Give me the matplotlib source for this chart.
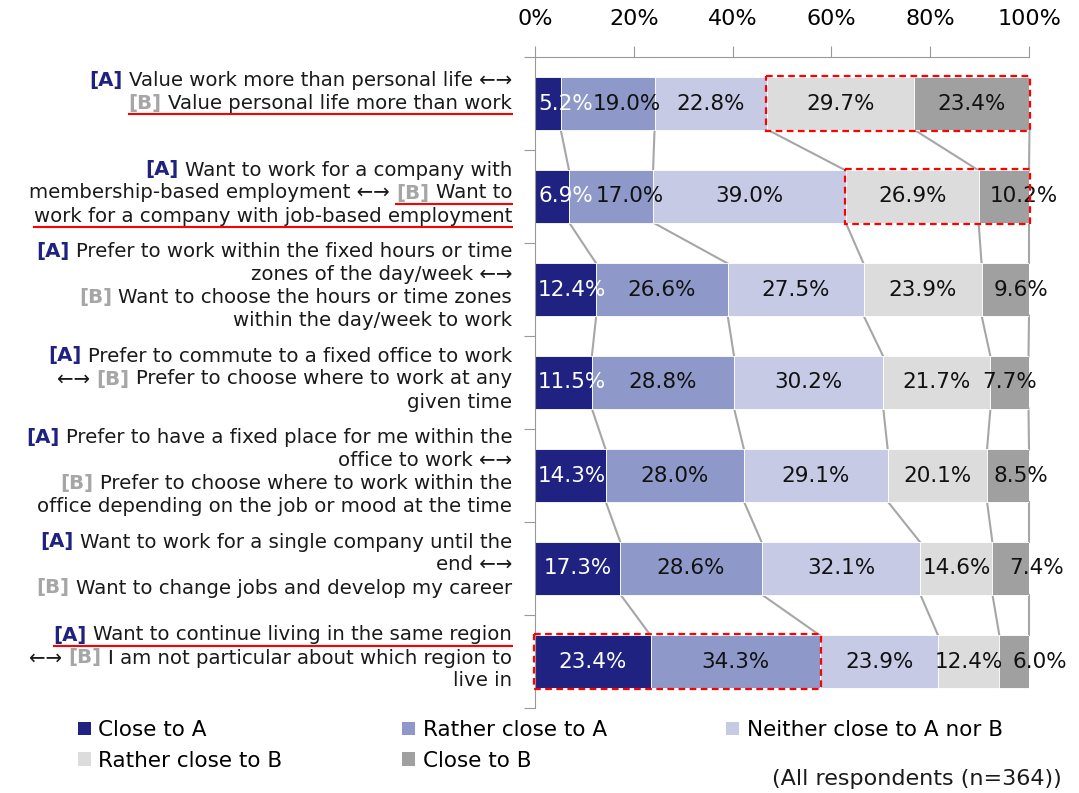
"""Work-style preference stacked bars (A vs B)."""
import matplotlib.pyplot as plt
import matplotlib.transforms as mtransforms
import numpy as np
from matplotlib.lines import Line2D
from matplotlib.patches import Patch, Rectangle

plt.rcParams['font.family'] = ['DejaVu Sans']

# ---- data -----------------------------------------------------------------
series = ["Close to A", "Rather close to A", "Neither close to A nor B",
          "Rather close to B", "Close to B"]
colors = ["#1F2280", "#8E99C9", "#C6CAE4", "#DCDCDC", "#A0A0A0"]

close_a = [5.2, 6.9, 12.4, 11.5, 14.3, 17.3, 23.4]
rather_a = [19.0, 17.0, 26.6, 28.8, 28.0, 28.6, 34.3]
neither = [22.8, 39.0, 27.5, 30.2, 29.1, 32.1, 23.9]
rather_b = [29.7, 26.9, 23.9, 21.7, 20.1, 14.6, 12.4]
close_b = [23.4, 10.2, 9.6, 7.7, 8.5, 7.4, 6.0]

# label lines: each line is a list of (text, style) segments
A, B, N = "A", "B", "N"
labels = [
    [[("[A]", A), ("Value work more than personal life ←→", N)],
     [("[B]", B), ("Value personal life more than work", N)]],
    [[("[A]", A), ("Want to work for a company with", N)],
     [("membership-based employment ←→", N), ("[B]", B), ("Want to", N)],
     [("work for a company with job-based employment", N)]],
    [[("[A]", A), ("Prefer to work within the fixed hours or time", N)],
     [("zones of the day/week ←→", N)],
     [("[B]", B), ("Want to choose the hours or time zones", N)],
     [("within the day/week to work", N)]],
    [[("[A]", A), ("Prefer to commute to a fixed office to work", N)],
     [("←→", N), ("[B]", B), ("Prefer to choose where to work at any", N)],
     [("given time", N)]],
    [[("[A]", A), ("Prefer to have a fixed place for me within the", N)],
     [("office to work ←→", N)],
     [("[B]", B), ("Prefer to choose where to work within the", N)],
     [("office depending on the job or mood at the time", N)]],
    [[("[A]", A), ("Want to work for a single company until the", N)],
     [("end ←→", N)],
     [("[B]", B), ("Want to change jobs and develop my career", N)]],
    [[("[A]", A), ("Want to continue living in the same region", N)],
     [("←→", N), ("[B]", B), ("I am not particular about which region to", N)],
     [("live in", N)]],
]
# extra upward shift (pixels) of a label block
label_lift = {0: 8}
# (row, line, first underlined segment)
underlines = [(0, 1, 0), (1, 1, 1), (1, 2, 0), (6, 0, 0)]
# (row, first segment, last segment) highlighted with a dashed box
boxes = [(0, 3, 4), (1, 3, 4), (6, 0, 1)]
# value labels moved sideways (pixels) to limit overlaps
nudges = {(0, 1): 19, (1, 1): 19, (1, 4): 20, (2, 4): 16, (4, 4): 13,
          (5, 4): 26, (6, 4): 26}

style = {A: ("#1F2280", "bold"), B: ("#A6A6A6", "bold"), N: ("#1A1A1A", "normal")}

# ---- figure ---------------------------------------------------------------
W, H = 1079, 793
fig = plt.figure(figsize=(W / 100, H / 100), dpi=100)
ax = fig.add_axes([535 / W, 1 - 708 / H, 494 / W, 651 / H])
renderer = fig.canvas.get_renderer()

vals = np.array([close_a, rather_a, neither, rather_b, close_b]).T
lefts = np.hstack([np.zeros((len(vals), 1)), np.cumsum(vals, axis=1)[:, :-1]])
rows = np.arange(len(vals))
bh = 0.56

ax.set_xlim(0, 100)
ax.set_ylim(len(vals) - 0.5, -0.5)
ax_x0 = ax.transData.transform((0, 0))[0]

for j in range(vals.shape[1]):
    ax.barh(rows, vals[:, j], left=lefts[:, j], height=bh, color=colors[j],
            edgecolor="white", linewidth=0.6, zorder=2)
    for i in rows:
        dx = nudges.get((i, j), 0)
        t = ax.text(lefts[i, j] + vals[i, j] / 2, i, f"{vals[i, j]:.1f}%",
                    ha="center", va="center", fontsize=15.5, zorder=4,
                    color="white" if j == 0 else "#111111", clip_on=False)
        e = t.get_window_extent(renderer)
        if e.x0 < ax_x0 + 3:
            dx = ax_x0 + 3 - e.x0
        if dx:
            t.set_transform(mtransforms.offset_copy(ax.transData, fig,
                                                    x=dx, units="dots"))

# connector lines between bars
cums = np.cumsum(vals, axis=1)
for i in rows[:-1]:
    for j in range(vals.shape[1]):
        ax.plot([cums[i, j], cums[i + 1, j]], [i + bh / 2, i + 1 - bh / 2],
                color="#A6A6A6", lw=1.5, zorder=1, clip_on=False)

for r, s0, s1 in boxes:
    x0 = lefts[r, s0]
    x1 = min(cums[r, s1], 100)
    ax.add_patch(Rectangle((x0 - 0.2, r - bh / 2 - 0.02), x1 - x0 + 0.4,
                           bh + 0.04, fill=False, edgecolor="red",
                           ls=(0, (3, 2)), lw=1.6, zorder=5, clip_on=False))

ax.xaxis.tick_top()
ax.set_xticks(range(0, 101, 20))
ax.set_xticklabels([f"{v}%" for v in range(0, 101, 20)])
ax.tick_params(axis="x", length=8, color="#999999", labelsize=16, pad=12)
ax.set_yticks(np.arange(-0.5, len(vals), 1))
ax.set_yticklabels([])
ax.tick_params(axis="y", length=8, color="#999999")
for side in ("right", "bottom"):
    ax.spines[side].set_visible(False)
for side in ("top", "left"):
    ax.spines[side].set_color("#999999")

# ---- category labels with coloured [A]/[B] ------------------------------
fs = 14.2
probe1 = fig.text(0, 0, "x x", fontsize=fs)
probe2 = fig.text(0, 0, "xx", fontsize=fs)
gap = (probe1.get_window_extent(renderer).width
       - probe2.get_window_extent(renderer).width)
probe1.remove()
probe2.remove()

x_right = 512
line_step = 23
placed = {}
for r, lines in enumerate(labels):
    yc = ax.transData.transform((0, r))[1] + 5 + label_lift.get(r, 0)
    n = len(lines)
    for k, segs in enumerate(lines):
        base = yc + ((n - 1) / 2 - k) * line_step - 7
        x = x_right
        exts = [None] * len(segs)
        for s in range(len(segs) - 1, -1, -1):
            text, st = segs[s]
            col, wt = style[st]
            t = fig.text(x / W, base / H, text, ha="right", va="baseline",
                         fontsize=fs, color=col, fontweight=wt)
            e = t.get_window_extent(renderer)
            exts[s] = e
            x = e.x0 - gap
        placed[(r, k)] = (exts, base)

for r, k, s0 in underlines:
    exts, base = placed[(r, k)]
    y = base - 5
    fig.add_artist(Line2D([exts[s0].x0 / W, exts[-1].x1 / W], [y / H, y / H],
                          transform=fig.transFigure, color="red", lw=1.5))

# ---- legend ---------------------------------------------------------------
handles = [Patch(facecolor=c, edgecolor="none") for c in colors]
order = [0, 3, 1, 4, 2]
fig.legend([handles[i] for i in order], [series[i] for i in order],
           loc="upper left", bbox_to_anchor=(78 / W, 1 - 720 / H), ncol=3,
           frameon=False, fontsize=15.5, handlelength=0.6, handleheight=0.6,
           handletextpad=0.35, columnspacing=5.55, labelspacing=0.5,
           borderpad=0, borderaxespad=0)

fig.text(1062 / W, 1 - 779 / H, "(All respondents (n=364))", ha="right",
         va="center", fontsize=16, color="#1A1A1A")

fig.savefig("out.png", dpi=100)
